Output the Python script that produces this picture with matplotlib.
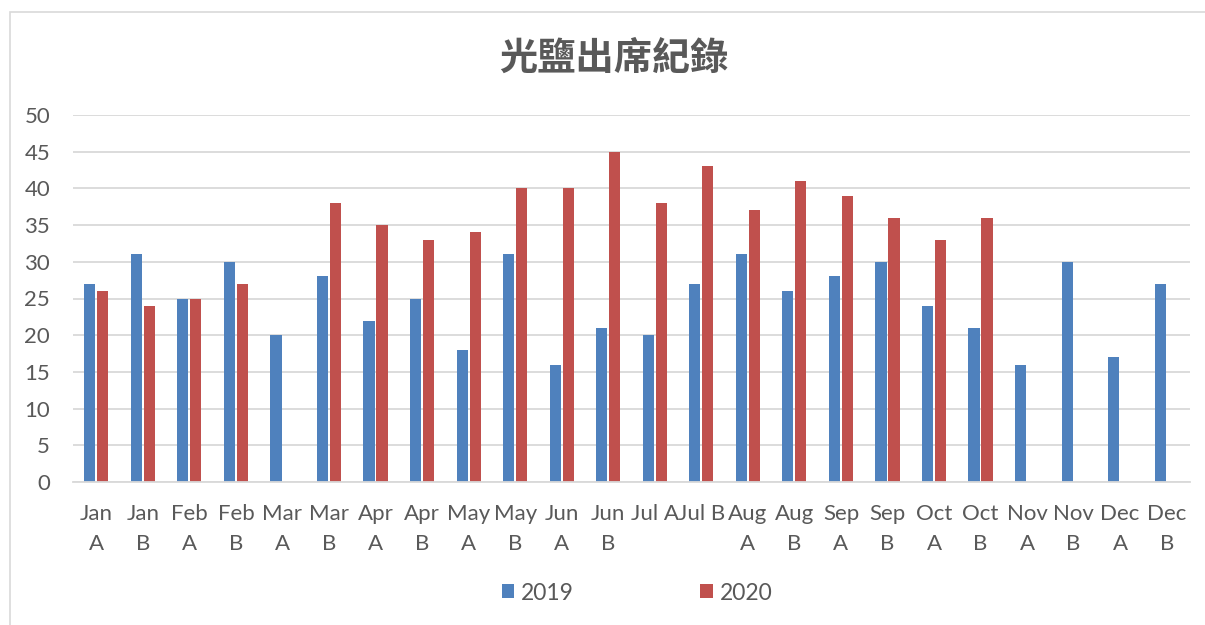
import matplotlib.pyplot as plt
import numpy as np
from matplotlib.patches import Rectangle

plt.rcParams['font.family'] = ['Lato', 'Noto Sans CJK TC', 'DejaVu Sans']

categories = ['Jan\nA', 'Jan\nB', 'Feb\nA', 'Feb\nB', 'Mar\nA', 'Mar\nB', 'Apr\nA', 'Apr\nB',
              'May\nA', 'May\nB', 'Jun\nA', 'Jun\nB', 'Jul A', 'Jul B', 'Aug\nA', 'Aug\nB',
              'Sep\nA', 'Sep\nB', 'Oct\nA', 'Oct\nB', 'Nov\nA', 'Nov\nB', 'Dec\nA', 'Dec\nB']
y2019 = [27, 31, 25, 30, 20, 28, 22, 25, 18, 31, 16, 21, 20, 27, 31, 26, 28, 30, 24, 21, 16, 30, 17, 27]
y2020 = [26, 24, 25, 27, 0, 38, 35, 33, 34, 40, 40, 45, 38, 43, 37, 41, 39, 36, 33, 36, 0, 0, 0, 0]
yticks = [0, 5, 10, 15, 20, 25, 30, 35, 40, 45, 50]

W, H = 1205, 625
fig = plt.figure(figsize=(W / 100, H / 100), dpi=100)
fig.patches.append(Rectangle((10 / W, -0.1), 1.2, 1 - 12 / H + 0.1, transform=fig.transFigure,
                             fill=False, edgecolor='#d9d9d9', linewidth=1.2))

ax = fig.add_axes([73 / W, 1 - 482 / H, (1190 - 73) / W, (482 - 115) / H])
x = np.arange(len(categories))
bw = 0.24
ax.bar(x - bw / 2 - 0.02, y2019, bw, color='#4f81bd', label='2019')
ax.bar(x + bw / 2 + 0.02, y2020, bw, color='#c0504d', label='2020')

ax.set_xlim(-0.5, len(categories) - 0.5)
ax.set_ylim(0, 50)
ax.set_yticks(yticks)
ax.set_xticks(x)
ax.set_xticklabels(categories, linespacing=1.6, va='top')
ax.tick_params(axis='both', length=0, labelsize=16, colors='#595959')
ax.tick_params(axis='x', pad=16)
ax.tick_params(axis='y', pad=16.5)
ax.grid(axis='y', color='#d9d9d9', linewidth=1.3)
ax.set_axisbelow(True)
for s in ['top', 'right', 'left']:
    ax.spines[s].set_visible(False)
ax.spines['bottom'].set_color('#d9d9d9')
ax.spines['bottom'].set_linewidth(1.3)

fig.text(614 / W, 1 - 58 / H, '光鹽出席紀錄', ha='center', va='center', fontsize=27.5,
         fontweight='bold', color='#595959', family=['Noto Sans CJK TC', 'DejaVu Sans'])

fig.legend(loc='center', bbox_to_anchor=(637 / W, 1 - 593 / H), ncol=2, frameon=False,
           fontsize=16.5, labelcolor='#595959', handlelength=0.55, handleheight=0.55,
           handletextpad=0.3, columnspacing=5.5)

fig.savefig('out.png', dpi=100)
